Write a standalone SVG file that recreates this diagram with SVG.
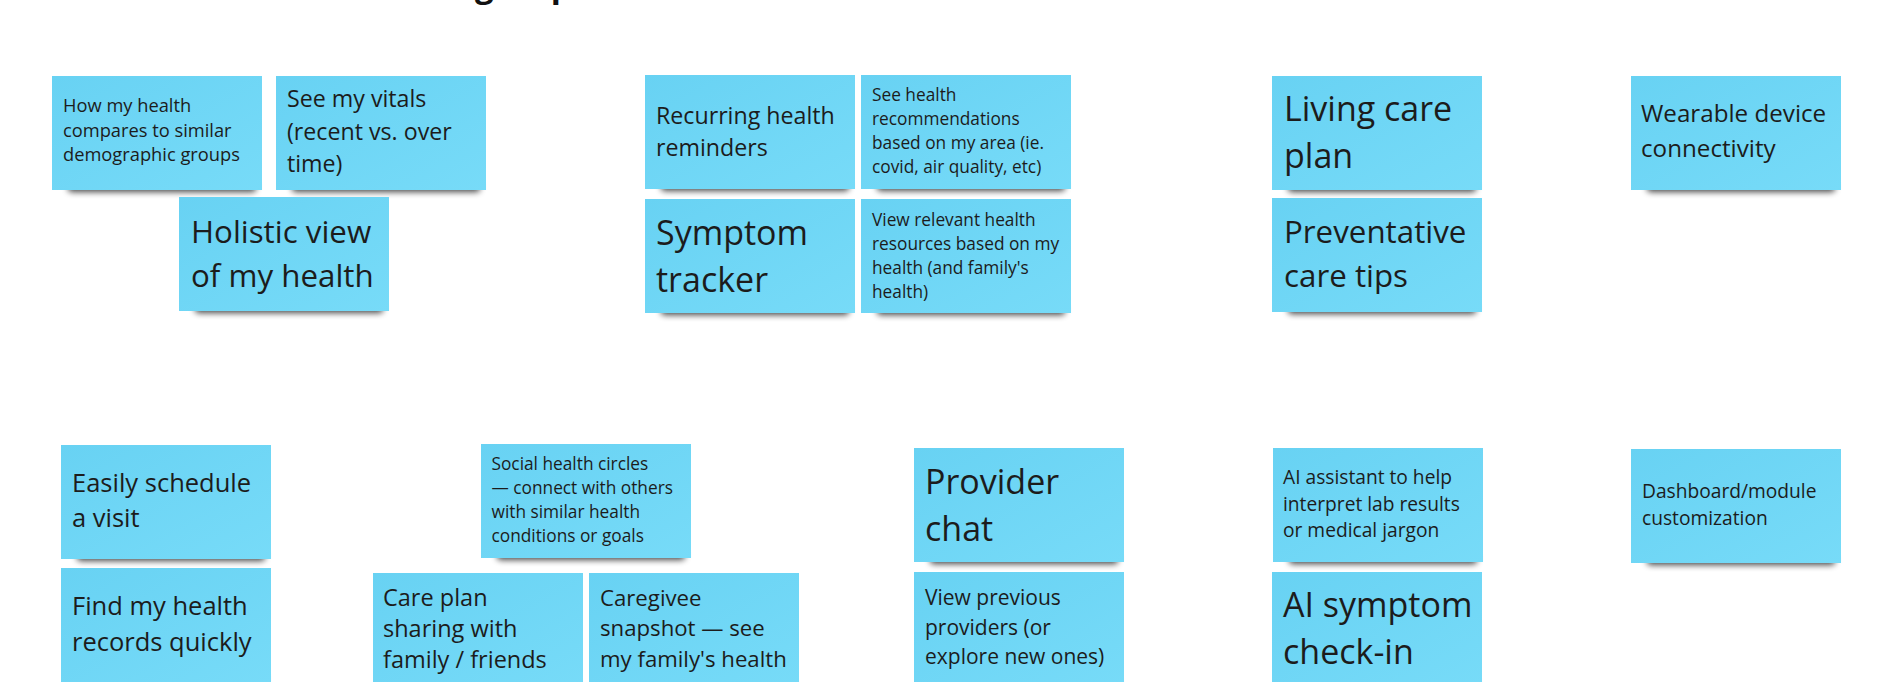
<svg xmlns="http://www.w3.org/2000/svg" width="1896" height="682" viewBox="0 0 1896 682">
  <defs>
    <linearGradient id="paper" x1="0" y1="0" x2="1" y2="1">
      <stop offset="0" stop-color="#68d2f3"/>
      <stop offset="1" stop-color="#77dbf8"/>
    </linearGradient>
    <filter id="soft" x="-20%" y="-100%" width="140%" height="300%">
      <feGaussianBlur stdDeviation="3.4"/>
    </filter>
    <!-- shared sticky-note shape: paper + drop shadow, 210 x 114 -->
    <g id="sticky">
      <rect x="16" y="105" width="188" height="11" rx="4" fill="#000" opacity="0.72" filter="url(#soft)"/>
      <rect x="0" y="0" width="210" height="114" fill="url(#paper)"/>
    </g>
  </defs>
  <style>
    text { font-family: "Open Sans", "Liberation Sans", sans-serif; fill: #1c1c1c; }
    .title { font-weight: 700; font-size: 33px; fill: #111; }
    .s17 { font-size: 17.3px; }
    .s18 { font-size: 18.3px; }
    .s19 { font-size: 19.2px; }
    .s21 { font-size: 21px; }
    .s22 { font-size: 22.2px; }
    .s23 { font-size: 23.2px; }
    .s235 { font-size: 23.5px; }
    .s24 { font-size: 24.2px; }
    .s25 { font-size: 25.5px; }
    .s31 { font-size: 31.3px; }
    .s34 { font-size: 34px; }
  </style>

  <rect width="1896" height="682" fill="#ffffff"/>

  <!-- board heading, mostly scrolled above the view -->
  <text class="title" x="475" y="-3.5">groups</text>

  <!-- top row, cluster 1 -->
  <g id="n-compare">
    <use href="#sticky" x="52" y="76"/>
    <text class="s18"><tspan x="63" y="112.3">How my health</tspan><tspan x="63" y="136.7">compares to similar</tspan><tspan x="63" y="160.8">demographic groups</tspan></text>
  </g>
  <g id="n-vitals">
    <use href="#sticky" x="276" y="76"/>
    <text class="s23"><tspan x="287" y="107">See my vitals</tspan><tspan x="287" y="139.5">(recent vs. over</tspan><tspan x="287" y="172">time)</tspan></text>
  </g>
  <g id="n-holistic">
    <use href="#sticky" x="179" y="197"/>
    <text class="s31"><tspan x="191" y="243">Holistic view</tspan><tspan x="191" y="287">of my health</tspan></text>
  </g>

  <!-- top row, cluster 2 -->
  <g id="n-reminders">
    <use href="#sticky" x="645" y="75"/>
    <text class="s23"><tspan x="656" y="124">Recurring health</tspan><tspan x="656" y="155.5">reminders</tspan></text>
  </g>
  <g id="n-recommendations">
    <use href="#sticky" x="861" y="75"/>
    <text class="s17"><tspan x="872" y="101">See health</tspan><tspan x="872" y="125">recommendations</tspan><tspan x="872" y="149">based on my area (ie.</tspan><tspan x="872" y="173">covid, air quality, etc)</tspan></text>
  </g>
  <g id="n-symptom-tracker">
    <use href="#sticky" x="645" y="199"/>
    <text class="s34"><tspan x="656" y="244.5">Symptom</tspan><tspan x="656" y="292">tracker</tspan></text>
  </g>
  <g id="n-resources">
    <use href="#sticky" x="861" y="199"/>
    <text class="s17"><tspan x="872" y="225.7">View relevant health</tspan><tspan x="872" y="249.7">resources based on my</tspan><tspan x="872" y="273.8">health (and family's</tspan><tspan x="872" y="298">health)</tspan></text>
  </g>

  <!-- top row, cluster 3 -->
  <g id="n-living-plan">
    <use href="#sticky" x="1272" y="76"/>
    <text class="s34"><tspan x="1284" y="120.5">Living care</tspan><tspan x="1284" y="167.5">plan</tspan></text>
  </g>
  <g id="n-preventative">
    <use href="#sticky" x="1272" y="198"/>
    <text class="s31"><tspan x="1284" y="243">Preventative</tspan><tspan x="1284" y="287">care tips</tspan></text>
  </g>

  <!-- top row, cluster 4 -->
  <g id="n-wearable">
    <use href="#sticky" x="1631" y="76"/>
    <text class="s24"><tspan x="1641" y="122.3">Wearable device</tspan><tspan x="1641" y="157.3">connectivity</tspan></text>
  </g>

  <!-- bottom row, cluster 1 -->
  <g id="n-schedule">
    <use href="#sticky" x="61" y="445"/>
    <text class="s25"><tspan x="72" y="492.3">Easily schedule</tspan><tspan x="72" y="526.7">a visit</tspan></text>
  </g>
  <g id="n-records">
    <use href="#sticky" x="61" y="568"/>
    <text class="s25"><tspan x="72" y="615">Find my health</tspan><tspan x="72" y="651">records quickly</tspan></text>
  </g>

  <!-- bottom row, cluster 2 -->
  <g id="n-circles">
    <use href="#sticky" x="481" y="444"/>
    <text class="s17"><tspan x="491.5" y="470">Social health circles</tspan><tspan x="491.5" y="494">— connect with others</tspan><tspan x="491.5" y="518.3">with similar health</tspan><tspan x="491.5" y="542">conditions or goals</tspan></text>
  </g>
  <g id="n-care-sharing">
    <use href="#sticky" x="373" y="573"/>
    <text class="s235"><tspan x="383" y="605.5">Care plan</tspan><tspan x="383" y="637">sharing with</tspan><tspan x="383" y="668">family / friends</tspan></text>
  </g>
  <g id="n-caregivee">
    <use href="#sticky" x="589" y="573"/>
    <text class="s22"><tspan x="600" y="605.5">Caregivee</tspan><tspan x="600" y="636">snapshot — see</tspan><tspan x="600" y="666.5">my family's health</tspan></text>
  </g>

  <!-- bottom row, cluster 3 -->
  <g id="n-provider-chat">
    <use href="#sticky" x="914" y="448"/>
    <text class="s34"><tspan x="925" y="494">Provider</tspan><tspan x="925" y="541">chat</tspan></text>
  </g>
  <g id="n-previous">
    <use href="#sticky" x="914" y="572"/>
    <text class="s21"><tspan x="925" y="604.8">View previous</tspan><tspan x="925" y="635">providers (or</tspan><tspan x="925" y="664.3">explore new ones)</tspan></text>
  </g>

  <!-- bottom row, cluster 4 -->
  <g id="n-ai-assistant">
    <use href="#sticky" x="1273" y="448"/>
    <text class="s19"><tspan x="1283" y="484">AI assistant to help</tspan><tspan x="1283" y="510.8">interpret lab results</tspan><tspan x="1283" y="537.2">or medical jargon</tspan></text>
  </g>
  <g id="n-ai-symptom">
    <use href="#sticky" x="1272" y="572"/>
    <text class="s34"><tspan x="1283" y="617.3">AI symptom</tspan><tspan x="1283" y="663.5">check-in</tspan></text>
  </g>

  <!-- bottom row, cluster 5 -->
  <g id="n-dashboard">
    <use href="#sticky" x="1631" y="449"/>
    <text class="s19"><tspan x="1642" y="498.3">Dashboard/module</tspan><tspan x="1642" y="525">customization</tspan></text>
  </g>
</svg>
